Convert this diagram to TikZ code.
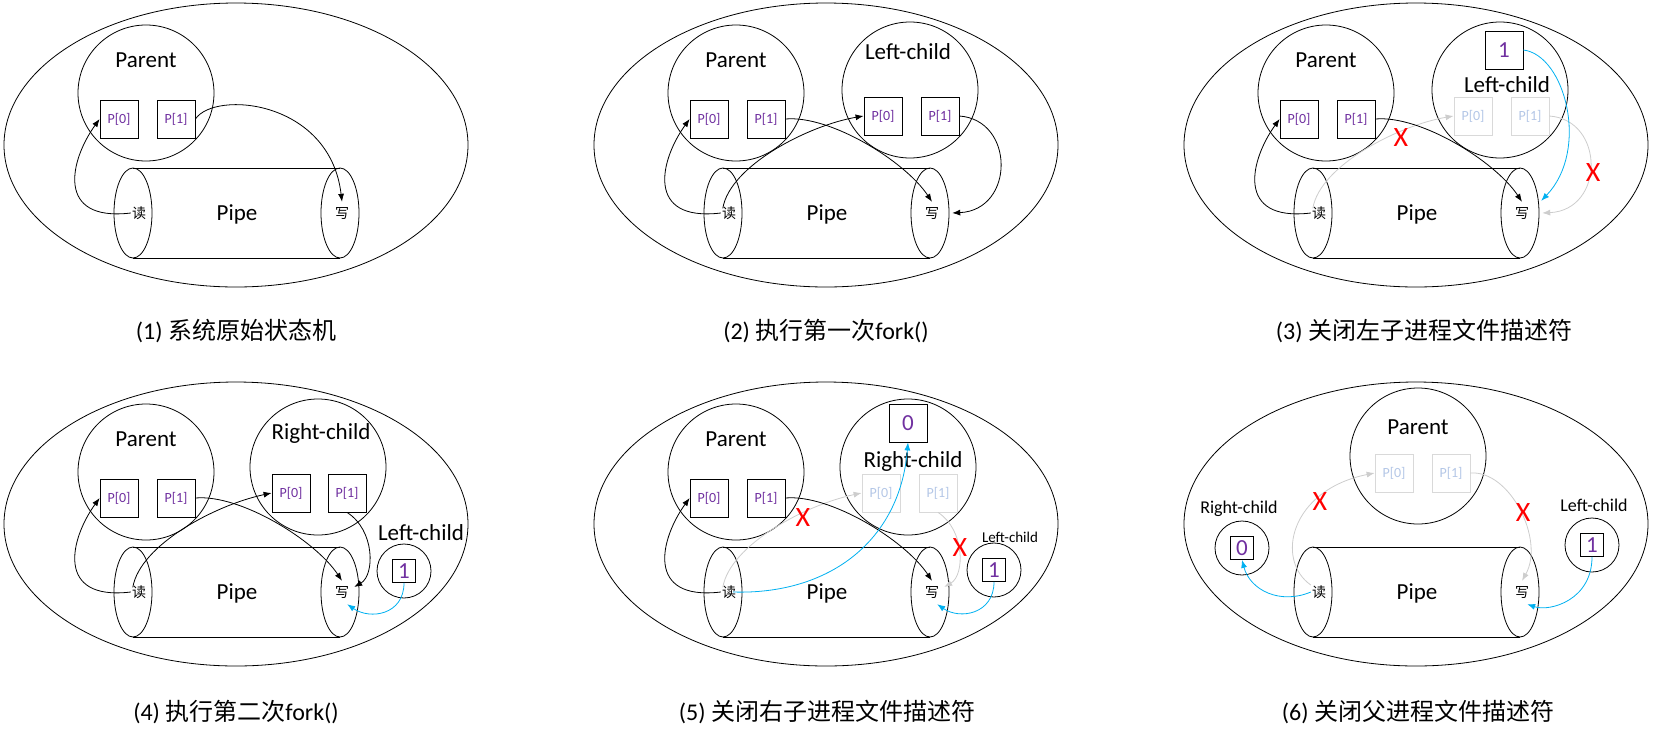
\documentclass[tikz,border=0pt]{standalone}
\usepackage{fontspec}
\setmainfont{Carlito}
\newfontfamily\cjk{Noto Sans CJK SC}
\usetikzlibrary{arrows.meta}
\definecolor{fdpurple}{RGB}{112,48,160}
\definecolor{fadeline}{RGB}{217,217,217}
\definecolor{fadetext}{RGB}{180,199,231}
\definecolor{grayarrow}{RGB}{205,205,205}
\definecolor{bluearrow}{RGB}{0,176,240}
\definecolor{xred}{RGB}{255,0,0}
\tikzset{
  outline/.style={draw=black, line width=0.8pt},
  proc/.style={circle, outline, minimum size=136pt, inner sep=0pt},
  sproc/.style={circle, outline, minimum size=54pt, inner sep=0pt},
  lbl/.style={inner sep=0pt, font=\fontsize{23}{23}\selectfont},
  slbl/.style={inner sep=0pt, font=\fontsize{18}{18}\selectfont},
  tlbl/.style={inner sep=0pt, font=\fontsize{15}{15}\selectfont},
  fdbox/.style={draw=black, line width=0.8pt, fill=white, minimum size=38pt, inner sep=0pt, text=fdpurple, font=\fontsize{14}{14}\selectfont},
  fdfade/.style={fdbox, draw=fadeline, text=fadetext},
  numbox/.style={fdbox, font=\fontsize{23}{23}\selectfont},
  snumbox/.style={numbox, minimum size=23pt},
  rw/.style={inner sep=1pt, font=\cjk\fontsize{14}{14}\selectfont},
  blk/.style={line width=0.8pt, -{Latex[length=8pt,width=6pt]}},
  gry/.style={blk, draw=grayarrow},
  blu/.style={blk, draw=bluearrow},
  xmark/.style={inner sep=0pt, text=xred, font=\fontsize{28}{28}\selectfont},
  captxt/.style={inner sep=0pt, font=\fontsize{24}{24}\selectfont},
}
\newcommand\drawframe{%
  \draw[outline] (236,145) ellipse [x radius=232pt, y radius=142pt];
  \draw[outline] (133,168) -- (340,168);
  \draw[outline] (133,258) -- (340,258);
  \draw[outline] (133,213) ellipse [x radius=19pt, y radius=45pt];
  \draw[outline] (340,213) ellipse [x radius=19pt, y radius=45pt];
  \node[lbl] (pipe) at (237,214) {Pipe};
  \node[rw] (rd) at (139,213) {读};
  \node[rw] (wr) at (342,213) {写};
}
\newcommand\drawparent{%
  \node[proc] (par) at (146,93) {};
  \node[lbl] (partxt) at (146,60) {Parent};
  \node[fdbox] (p0) at (119,119) {P[0]};
  \node[fdbox] (p1) at (176,119) {P[1]};
}
\newcommand\readparent[1]{%
  \draw[#1] (rd.west) .. controls (55,222) and (70,160) .. (p0.west);
}
\newcommand\writeparent[1]{%
  \draw[#1] (p1.east) .. controls (240,115) and (315,161) .. ([yshift=4pt]wr.north);
}
\begin{document}
\begin{tikzpicture}[x=1pt,y=-1pt]
\useasboundingbox (0,0) rectangle (1655,740);

% ---------- (1)
\begin{scope}[name prefix=a-]
  \drawframe
  \drawparent
  \readparent{blk}
  \draw[blk] (p1.east) .. controls (215,90) and (330,100) .. ([yshift=4pt]wr.north);
  \node[captxt] (cp) at (236,331) {(1) {\cjk 系统原始状态机}};
\end{scope}

% ---------- (2)
\begin{scope}[shift={(590,0)}, name prefix=b-]
  \drawframe
  \drawparent
  \node[proc] (lc) at (320,90) {};
  \node[lbl] (lctxt) at (318,52) {Left-child};
  \node[fdbox] (lp0) at (293,116) {P[0]};
  \node[fdbox] (lp1) at (350,116) {P[1]};
  \readparent{blk}
  \writeparent{blk}
  \draw[blk] ([xshift=2pt,yshift=-3pt]rd.north west) .. controls (140,165) and (220,125) .. (lp0.west);
  \draw[blk] (lp1.east) .. controls (425,120) and (425,210) .. ([xshift=12pt]wr.east);
  \node[captxt] (cp) at (236,331) {(2) {\cjk 执行第一次}fork()};
\end{scope}

% ---------- (3)
\begin{scope}[shift={(1180,0)}, name prefix=c-]
  \drawframe
  \drawparent
  \node[proc] (lc) at (320,90) {};
  \node[numbox] (one) at (324,50) {1};
  \node[lbl] (lctxt) at (327,85) {Left-child};
  \node[fdfade] (lp0) at (293,116) {P[0]};
  \node[fdfade] (lp1) at (350,116) {P[1]};
  \draw[gry] ([xshift=2pt,yshift=-3pt]rd.north west) .. controls (140,165) and (220,125) .. (lp0.west);
  \draw[gry] (lp1.east) .. controls (425,120) and (425,210) .. ([xshift=12pt]wr.east);
  \readparent{blk}
  \writeparent{blk}
  \draw[blu] (one.east) .. controls (385,55) and (410,150) .. ([xshift=11pt,yshift=5pt]wr.north east);
  \node[xmark] (x1) at (221,138) {X};
  \node[xmark] (x2) at (413,173) {X};
  \node[captxt] (cp) at (244,331) {(3) {\cjk 关闭左子进程文件描述符}};
\end{scope}

% ---------- (4)
\begin{scope}[shift={(0,379)}, name prefix=d-]
  \drawframe
  \drawparent
  \node[proc] (rc) at (318,88) {};
  \node[lbl] (rctxt) at (321,54) {Right-child};
  \node[fdbox] (rp0) at (291,114) {P[0]};
  \node[fdbox] (rp1) at (347,114) {P[1]};
  \node[sproc] (lc) at (404,192) {};
  \node[snumbox] (one) at (404,192) {1};
  \node[lbl] (lctxt) at (421,154) {Left-child};
  \readparent{blk}
  \writeparent{blk}
  \draw[blk] ([xshift=2pt,yshift=-3pt]rd.north west) .. controls (140,166) and (215,126) .. (rp0.west);
  \draw[blk] (rp1.south) .. controls (375,151) and (375,196) .. ([xshift=4pt,yshift=5pt]wr.east);
  \draw[blu] (one.south) .. controls (404,236) and (370,241) .. ([xshift=-3pt,yshift=-5pt]wr.south east);
  \node[captxt] (cp) at (236,333) {(4) {\cjk 执行第二次}fork()};
\end{scope}

% ---------- (5)
\begin{scope}[shift={(590,379)}, name prefix=e-]
  \drawframe
  \drawparent
  \node[proc] (rc) at (318,88) {};
  \node[numbox] (zero) at (318,44) {0};
  \node[lbl] (rctxt) at (323,82) {Right-child};
  \node[fdfade] (rp0) at (291,114) {P[0]};
  \node[fdfade] (rp1) at (348,114) {P[1]};
  \node[sproc] (lc) at (404,191) {};
  \node[snumbox] (one) at (404,191) {1};
  \node[tlbl] (lctxt) at (420,158) {Left-child};
  \draw[gry] ([xshift=2pt,yshift=-3pt]rd.north west) .. controls (140,166) and (215,126) .. (rp0.west);
  \draw[gry] (rp1.south) .. controls (375,151) and (375,196) .. ([xshift=4pt,yshift=5pt]wr.east);
  \readparent{blk}
  \writeparent{blk}
  \draw[blu] ([xshift=4pt]rd.center) .. controls (240,216) and (310,161) .. (zero.south);
  \draw[blu] (one.south) .. controls (404,235) and (370,241) .. ([xshift=-3pt,yshift=-5pt]wr.south east);
  \node[xmark] (x1) at (213,139) {X};
  \node[xmark] (x2) at (370,169) {X};
  \node[captxt] (cp) at (237,333) {(5) {\cjk 关闭右子进程文件描述符}};
\end{scope}

% ---------- (6)
\begin{scope}[shift={(1180,379)}, name prefix=f-]
  \drawframe
  \node[proc] (par) at (238,77) {};
  \node[lbl] (partxt) at (238,48) {Parent};
  \node[fdfade] (p0) at (214,94) {P[0]};
  \node[fdfade] (p1) at (271,94) {P[1]};
  \node[sproc] (rc) at (62,169) {};
  \node[snumbox] (zero) at (62,169) {0};
  \node[slbl] (rctxt) at (59,130) {Right-child};
  \node[sproc] (lc) at (412,166) {};
  \node[snumbox] (one) at (412,166) {1};
  \node[slbl] (lctxt) at (414,126) {Left-child};
  \draw[gry] ([yshift=7pt]rd.west) .. controls (95,181) and (110,111) .. (p0.west);
  \draw[gry] (p1.east) .. controls (330,91) and (365,161) .. ([yshift=4pt]wr.north);
  \draw[blu] (rd.west) .. controls (100,226) and (70,211) .. (zero.south);
  \draw[blu] (one.south) .. controls (412,221) and (370,233) .. ([xshift=-3pt,yshift=-5pt]wr.south east);
  \node[xmark] (x1) at (140,123) {X};
  \node[xmark] (x2) at (343,134) {X};
  \node[captxt] (cp) at (238,333) {(6) {\cjk 关闭父进程文件描述符}};
\end{scope}
\end{tikzpicture}
\end{document}
